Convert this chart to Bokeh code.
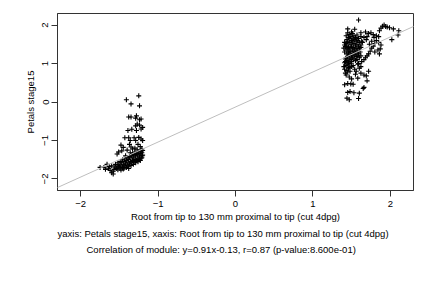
import numpy as np
from bokeh.plotting import figure
from bokeh.models import Slope, Title, FixedTicker
from bokeh.embed import file_html
from bokeh.resources import INLINE

# ---- data ----
left_x = [-1.41, -1.35, -1.25, -1.24, -1.38, -1.35, -1.28, -1.29, -1.24, -1.22,
          -1.27, -1.29, -1.24, -1.20, -1.39, -1.34, -1.28, -1.22,
          -1.43, -1.38, -1.31, -1.36, -1.29, -1.22, -1.20, -1.25,
          -1.48, -1.45, -1.37, -1.35, -1.26, -1.23, -1.30, -1.21,
          -1.53, -1.51, -1.47, -1.40, -1.33, -1.27,
          -1.55, -1.56, -1.54, -1.52, -1.51, -1.53, -1.52,
          -1.49, -1.48, -1.50, -1.49, -1.46, -1.47, -1.45, -1.46,
          -1.43, -1.44, -1.42, -1.43, -1.44, -1.40, -1.41, -1.39, -1.40, -1.41,
          -1.37, -1.38, -1.36, -1.37, -1.38, -1.34, -1.35, -1.33, -1.34, -1.35,
          -1.31, -1.32, -1.30, -1.31, -1.32, -1.28, -1.29, -1.27, -1.28, -1.29,
          -1.25, -1.26, -1.24, -1.25, -1.26, -1.22, -1.23, -1.21, -1.22, -1.23,
          -1.20, -1.21, -1.20, -1.21,
          -1.75, -1.70, -1.66, -1.64, -1.62, -1.60, -1.58, -1.60, -1.57, -1.48,
          -1.45, -1.38, -1.63, -1.68, -1.58, -1.33, -1.30, -1.26, -1.36, -1.42]
left_y = [0.06, -0.05, 0.16, -0.10, -0.39, -0.39, -0.36, -0.42, -0.46, -0.44,
          -0.57, -0.62, -0.60, -0.66, -0.74, -0.71, -0.74, -0.70,
          -0.93, -0.93, -0.93, -1.00, -1.00, -0.96, -1.00, -0.92,
          -1.12, -1.18, -1.10, -1.17, -1.10, -1.16, -1.20, -1.22,
          -1.35, -1.30, -1.27, -1.25, -1.22, -1.24,
          -1.62, -1.69, -1.73, -1.58, -1.66, -1.71, -1.76,
          -1.55, -1.63, -1.67, -1.72, -1.50, -1.58, -1.63, -1.70,
          -1.48, -1.55, -1.61, -1.66, -1.72, -1.45, -1.52, -1.58, -1.64, -1.70,
          -1.42, -1.49, -1.55, -1.61, -1.67, -1.38, -1.45, -1.52, -1.58, -1.65,
          -1.36, -1.43, -1.49, -1.55, -1.62, -1.33, -1.40, -1.46, -1.52, -1.58,
          -1.30, -1.37, -1.43, -1.49, -1.55, -1.28, -1.34, -1.40, -1.46, -1.52,
          -1.26, -1.32, -1.38, -1.45,
          -1.70, -1.70, -1.62, -1.72, -1.78, -1.84, -1.87, -1.66, -1.75, -1.77,
          -1.74, -1.73, -1.68, -1.75, -1.80, -1.35, -1.30, -1.35, -1.32, -1.40]

right_x = [1.59, 1.45, 1.54, 1.50, 1.62, 1.68, 1.72, 1.75, 1.78, 1.82, 1.85, 1.79, 1.70,
           1.90, 1.92, 1.94, 1.96, 1.99, 2.04, 2.11, 2.10, 2.02, 1.88, 1.86,
           1.82, 1.85, 1.88, 1.87, 1.84, 1.86, 1.80, 1.78, 1.76, 1.74, 1.72, 1.70,
           1.68, 1.66, 1.73, 1.76, 1.80, 1.69, 1.66, 1.64, 1.62, 1.60,
           1.41, 1.41, 1.40, 1.41, 1.42, 1.41, 1.40, 1.41, 1.42,
           1.43, 1.44, 1.43, 1.42, 1.43, 1.44, 1.43, 1.42, 1.43, 1.44, 1.43,
           1.45, 1.46, 1.45, 1.44, 1.45, 1.46, 1.45, 1.44, 1.45, 1.46, 1.45,
           1.47, 1.48, 1.47, 1.46, 1.47, 1.48, 1.47, 1.46, 1.47, 1.48,
           1.49, 1.50, 1.49, 1.48, 1.49, 1.50, 1.49, 1.48, 1.50,
           1.51, 1.52, 1.51, 1.50, 1.51, 1.52, 1.51, 1.50, 1.52,
           1.53, 1.54, 1.53, 1.52, 1.53, 1.54, 1.53, 1.54,
           1.55, 1.56, 1.55, 1.54, 1.55, 1.56, 1.55, 1.56, 1.55,
           1.57, 1.58, 1.57, 1.56, 1.57, 1.58, 1.57, 1.58,
           1.59, 1.60, 1.59, 1.58, 1.59, 1.60, 1.59, 1.60,
           1.62, 1.63, 1.62, 1.61, 1.62, 1.63, 1.62,
           1.44, 1.47, 1.59, 1.45, 1.48, 1.53, 1.60, 1.65, 1.66, 1.41, 1.45, 1.49,
           1.52, 1.70, 1.69, 1.66, 1.72, 1.62, 1.58, 1.50, 1.47]
right_y = [2.13, 1.90, 1.89, 1.82, 1.80, 1.82, 1.78, 1.80, 1.75, 1.72, 1.70, 1.68, 1.70,
           1.97, 2.00, 1.96, 1.95, 1.93, 1.90, 1.85, 1.74, 1.62, 1.92, 1.85,
           1.60, 1.55, 1.48, 1.38, 1.35, 1.25, 1.30, 1.45, 1.40, 1.32, 1.25, 1.20,
           1.15, 1.10, 1.50, 1.58, 1.52, 1.62, 1.68, 1.55, 1.48, 1.40,
           1.55, 1.48, 1.40, 1.30, 1.12, 1.02, 0.92, 0.85, 0.75,
           1.72, 1.62, 1.52, 1.44, 1.35, 1.25, 1.15, 1.05, 0.95, 0.82, 0.70,
           1.80, 1.68, 1.58, 1.48, 1.38, 1.28, 1.18, 1.08, 0.98, 0.88, 0.78,
           1.75, 1.65, 1.55, 1.42, 1.32, 1.22, 1.12, 1.02, 0.90, 0.80,
           1.70, 1.60, 1.50, 1.40, 1.30, 1.20, 1.10, 1.00, 0.92,
           1.78, 1.66, 1.56, 1.45, 1.35, 1.25, 1.15, 1.05, 0.95,
           1.72, 1.62, 1.52, 1.42, 1.32, 1.22, 1.12, 0.85,
           1.68, 1.58, 1.48, 1.38, 1.28, 1.18, 1.08, 0.80, 0.72,
           1.74, 1.60, 1.50, 1.40, 1.30, 1.20, 1.10, 0.98,
           1.65, 1.55, 1.45, 1.35, 1.25, 1.15, 1.00, 0.88,
           1.70, 1.58, 1.42, 1.30, 1.20, 1.05, 0.92,
           0.10, 0.06, 0.09, 0.25, 0.27, 0.24, 0.23, 0.35, 0.38, 0.45, 0.48, 0.47,
           0.46, 0.55, 0.68, 0.70, 0.80, 0.75, 0.62, 0.60, 0.65]

fit_slope = 0.91
fit_intercept = -0.13
ticks = [-2, -1, 0, 1, 2]
x_label = "Root from tip to 130 mm proximal to tip (cut 4dpg)"
y_label = "Petals stage15"
line2 = "yaxis: Petals stage15, xaxis: Root from tip to 130 mm proximal to tip (cut 4dpg)"
line3 = "Correlation of module: y=0.91x-0.13, r=0.87 (p-value:8.600e-01)"

FONT = "Liberation Sans"
FS = "9.5px"

p = figure(width=432, height=288, output_backend="svg", toolbar_location=None,
           x_range=(-2.3, 2.3), y_range=(-2.3, 2.3),
           min_border_left=57, min_border_right=19, min_border_top=13, min_border_bottom=98)
p.background_fill_color = "white"
p.border_fill_color = "white"
p.grid.visible = False
p.outline_line_color = "#333333"
p.outline_line_width = 1

p.add_layout(Slope(gradient=fit_slope, y_intercept=fit_intercept,
                   line_color="#bebebe", line_width=1))

xs = left_x + right_x
ys = left_y + right_y
p.scatter(xs, ys, marker="cross", size=5, line_color="black", line_width=1.1)

for ax in (p.xaxis[0], p.yaxis[0]):
    ax.ticker = FixedTicker(ticks=ticks)
    ax.minor_tick_line_color = None
    ax.major_tick_out = 6
    ax.major_tick_in = 0
    ax.axis_line_color = "#333333"
    ax.major_tick_line_color = "#333333"
    ax.major_label_text_font = FONT
    ax.major_label_text_font_size = FS
    ax.major_label_text_color = "black"
    ax.axis_label_text_font = FONT
    ax.axis_label_text_font_size = FS
    ax.axis_label_text_font_style = "normal"
    ax.axis_label_text_color = "black"

p.xaxis.axis_label = x_label
p.xaxis.major_label_standoff = 4
p.xaxis.axis_label_standoff = 1
p.yaxis.axis_label = y_label
p.yaxis.major_label_orientation = "vertical"
p.yaxis.major_label_standoff = 3
p.yaxis.axis_label_standoff = 4

p.add_layout(Title(text=line2, align="left", offset=0, standoff=3,
                   text_font=FONT, text_font_size=FS, text_font_style="normal",
                   text_color="black"), "below")
p.add_layout(Title(text=line3, align="left", offset=29, standoff=3,
                   text_font=FONT, text_font_size=FS, text_font_style="normal",
                   text_color="black"), "below")

open("out.html", "w").write(file_html(p, INLINE))
